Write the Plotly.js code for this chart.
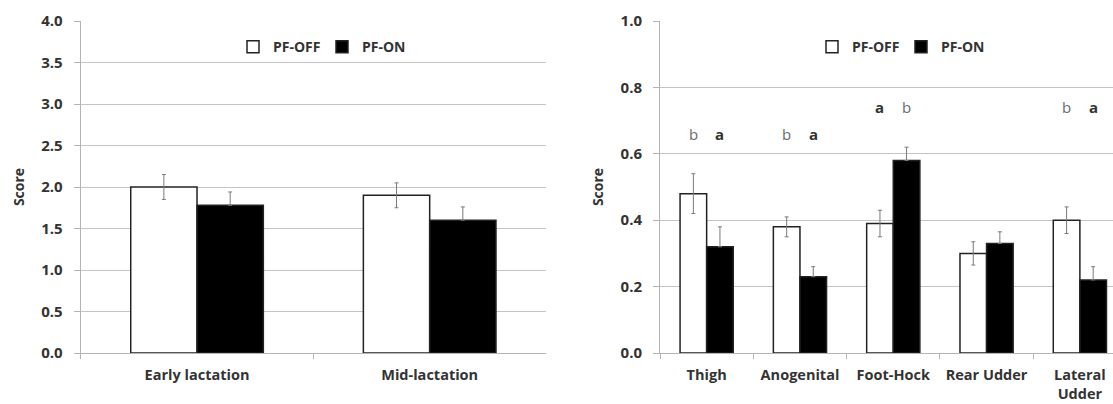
<!DOCTYPE html>
<html>
<head>
<meta charset="utf-8">
<script src="https://cdn.plot.ly/plotly-3.0.1.min.js"></script>
<style>
  html, body { margin: 0; padding: 0; background: #fff; }
  #chart { width: 1113px; height: 404px; }
</style>
</head>
<body>
<div id="chart"></div>
<script>
// ---- Data: left panel (lactation stage) ----
const lactCategories = ['Early lactation', 'Mid-lactation'];
const lactOff = [2.0, 1.9];
const lactOffErr = [0.15, 0.15];
const lactOn = [1.78, 1.6];
const lactOnErr = [0.16, 0.16];

// ---- Data: right panel (body site) ----
const siteCategories = ['Thigh', 'Anogenital', 'Foot-Hock', 'Rear Udder', 'Lateral<br>Udder'];
const siteOff = [0.48, 0.38, 0.39, 0.30, 0.40];
const siteOffErr = [0.06, 0.03, 0.04, 0.035, 0.04];
const siteOn = [0.32, 0.23, 0.58, 0.33, 0.22];
const siteOnErr = [0.06, 0.03, 0.04, 0.035, 0.04];
const letterOff = ['b', 'b', 'a', '', 'b'];
const letterOn = ['a', 'a', 'b', '', 'a'];
const letterY = [0.66, 0.66, 0.74, null, 0.74];

const seriesNames = ['PF-OFF', 'PF-ON'];

// ---- Styles ----
const FONT = '"Open Sans", "Noto Sans", sans-serif';
const TXT = '#333333';
const GRID = '#c4c4c4';
const AXIS = '#b4b4b4';
const ERR = '#7a7a7a';

function zeros(a) { return a.map(() => 0); }

function barTrace(x, y, err, name, isOn, xa, ya, legend) {
  return {
    type: 'bar', x: x, y: y, name: name,
    xaxis: xa, yaxis: ya, legend: legend, showlegend: true,
    marker: { color: isOn ? '#000000' : '#ffffff', line: { color: '#222222', width: 1.5 } },
    error_y: isOn
      ? { type: 'data', symmetric: false, array: err, arrayminus: zeros(err), color: ERR, thickness: 1, width: 2 }
      : { type: 'data', array: err, color: ERR, thickness: 1, width: 2 },
    hoverinfo: 'x+y'
  };
}

const traces = [
  barTrace(lactCategories, lactOff, lactOffErr, seriesNames[0], false, 'x', 'y', 'legend'),
  barTrace(lactCategories, lactOn, lactOnErr, seriesNames[1], true, 'x', 'y', 'legend'),
  barTrace(siteCategories, siteOff, siteOffErr, seriesNames[0], false, 'x2', 'y2', 'legend2'),
  barTrace(siteCategories, siteOn, siteOnErr, seriesNames[1], true, 'x2', 'y2', 'legend2')
];

// significance letters above each bar pair
const annotations = [];
function addLetters(letters, shift) {
  letters.forEach((L, i) => {
    if (!L || letterY[i] == null) return;
    const bold = L === 'a';
    annotations.push({
      xref: 'x2', yref: 'y2', x: siteCategories[i], y: letterY[i],
      xshift: shift, text: bold ? '<b>' + L + '</b>' : L, showarrow: false,
      font: { family: FONT, size: 15, color: bold ? '#333333' : '#6a6a6a' }
    });
  });
}
addLetters(letterOff, -13.3);
addLetters(letterOn, 13.3);

const yCommon = {
  showgrid: true, gridcolor: GRID, gridwidth: 1,
  showline: true, linecolor: AXIS, linewidth: 1,
  ticks: 'outside', ticklen: 6, tickcolor: AXIS,
  ticklabelstandoff: 8,
  tickfont: { family: FONT, size: 15, color: TXT, weight: 'bold' },
  zeroline: false, fixedrange: true,
  title: { text: '<b>Score</b>', standoff: 13, font: { family: FONT, size: 14, color: TXT } }
};
const xCommon = {
  type: 'category', tickangle: 0,
  showline: true, linecolor: AXIS, linewidth: 1,
  ticks: 'outside', ticklen: 5, tickcolor: AXIS, tickson: 'boundaries',
  tickfont: { family: FONT, size: 14.5, color: TXT, weight: 'bold' },
  showgrid: false, fixedrange: true, ticklabelstandoff: 9
};
const legendCommon = {
  orientation: 'h', xanchor: 'center', yanchor: 'middle',
  font: { family: FONT, size: 14, color: TXT, weight: 'bold' },
  bgcolor: 'rgba(0,0,0,0)', itemwidth: 30, entrywidth: 44, traceorder: 'normal'
};

const layout = {
  width: 1113, height: 404,
  margin: { l: 0, r: 0, t: 20.7, b: 51.3, pad: 0 },
  paper_bgcolor: '#ffffff', plot_bgcolor: '#ffffff',
  barmode: 'group', bargap: 0.43, bargroupgap: 0,
  font: { family: FONT, color: TXT },
  xaxis: Object.assign({}, xCommon, { domain: [80.7 / 1113, 546 / 1113], anchor: 'y', range: [-0.5, 1.5] }),
  yaxis: Object.assign({}, yCommon, { domain: [0, 1], anchor: 'x', range: [0, 4], dtick: 0.5, tickformat: '.1f' }),
  xaxis2: Object.assign({}, xCommon, { domain: [660 / 1113, 1], anchor: 'y2', range: [-0.5, 4.355] }),
  yaxis2: Object.assign({}, yCommon, { domain: [0, 1], anchor: 'x2', range: [0, 1], dtick: 0.2, tickformat: '.1f' }),
  legend: Object.assign({}, legendCommon, { x: 322 / 1113, y: 0.921 }),
  legend2: Object.assign({}, legendCommon, { x: 901 / 1113, y: 0.921 }),
  annotations: annotations,
  showlegend: true
};

Plotly.newPlot('chart', traces, layout, { displayModeBar: false, staticPlot: true });
</script>
</body>
</html>
